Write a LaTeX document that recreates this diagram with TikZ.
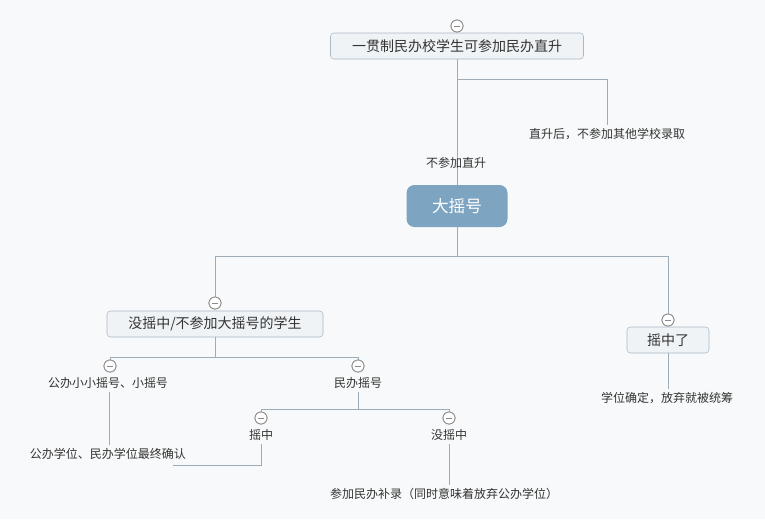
\documentclass[tikz,border=0pt]{standalone}
\usepackage{fontspec}
\setmainfont{Noto Sans CJK SC}
\definecolor{bgc}{HTML}{F8F9FA}
\definecolor{linec}{HTML}{9DADB8}
\definecolor{boxborder}{HTML}{A9B9C5}
\definecolor{boxfill}{HTML}{EFF3F6}
\definecolor{bigfill}{HTML}{7DA5C1}
\definecolor{txtc}{HTML}{333333}
\definecolor{circc}{HTML}{8A8A8A}
\begin{document}
\begin{tikzpicture}[x=0.75pt,y=-0.75pt,
  conn/.style={draw=linec, line width=0.75pt},
  topicbox/.style={draw=boxborder, fill=boxfill, rounded corners=2.5pt, minimum height=19.5pt, inner sep=0pt, text=txtc, font=\fontsize{10.5pt}{12pt}\selectfont},
  bigbox/.style={fill=bigfill, rounded corners=6pt, minimum width=75.75pt, minimum height=31.5pt, inner sep=0pt, text=white, font=\fontsize{12.5pt}{14pt}\selectfont},
  plain/.style={inner xsep=1pt, inner ysep=2.25pt, text=txtc, font=\fontsize{9pt}{11pt}\selectfont},
  collapse/.style={circle, draw=circc, fill=white, line width=0.6pt, minimum size=9pt, inner sep=0pt,
    path picture={\draw[circc, line width=0.6pt] ([xshift=2pt]path picture bounding box.west) -- ([xshift=-2pt]path picture bounding box.east);}}
]
\useasboundingbox[fill=bgc] (0,0) rectangle (765,519);

% nodes
\node[topicbox, minimum width=189.75pt] (top) at (457,46) {一贯制民办校学生可参加民办直升};
\node[collapse] (ctop) at (457,26) {};
\node[plain] (zs) at (607,134) {直升后，不参加其他学校录取};
\node[bigbox] (big) at (457,206) {大摇号};

\node[topicbox, minimum width=162pt] (L) at (215,324) {没摇中/不参加大摇号的学生};
\node[collapse] (cL) at (215,303) {};
\node[topicbox, minimum width=61.5pt] (R) at (668,340) {摇中了};
\node[collapse] (cR) at (668,320) {};
\node[plain] (tR) at (667,398) {学位确定，放弃就被统筹};

\node[plain] (t1) at (108,383) {公办小小摇号、小摇号};
\node[collapse] (c1) at (110,366) {};
\node[plain] (t2) at (358,383) {民办摇号};
\node[collapse] (c2) at (358,366) {};
\node[plain] (t3) at (108,454) {公办学位、民办学位最终确认};

\node[plain] (t4) at (261,435) {摇中};
\node[collapse] (c4) at (261,418) {};
\node[plain] (t5) at (449,435) {没摇中};
\node[collapse] (c5) at (449,418) {};
\node[plain] (t6) at (444,494) {参加民办补录（同时意味着放弃公办学位）};

% junctions
\coordinate (j1) at (457,79);
\coordinate (j2) at (457,256);
\coordinate (j3) at (215,357);
\coordinate (j4) at (358,409);
\coordinate (e1) at (173,465);

% connectors
\draw[conn] (top.south) -- (big.north);
\draw[conn] (j1) -| (zs.north);
\draw[conn] (big.south) -- (j2);
\draw[conn] (j2) -| (cL.north);
\draw[conn] (j2) -| (cR.north);
\draw[conn] (R.south) -- (R.south |- tR.north);
\draw[conn] (L.south) -- (j3);
\draw[conn] (j3) -| (c1.north);
\draw[conn] (j3) -| (c2.north);
\draw[conn] (t1.south -| 109,0) -- (109,0 |- t3.north);
\draw[conn] (t2.south) -- (j4);
\draw[conn] (j4) -| (c4.north);
\draw[conn] (j4) -| (c5.north);
\draw[conn] (t4.south) |- (e1);
\draw[conn] (t5.south) -- (t5.south |- t6.north);

% redraw markers on top of lines
\node[collapse] at (ctop) {};
\node[collapse] at (cL) {};
\node[collapse] at (cR) {};
\node[collapse] at (c1) {};
\node[collapse] at (c2) {};
\node[collapse] at (c4) {};
\node[collapse] at (c5) {};

\node[plain] (lbl) at (456,163) {不参加直升};
\end{tikzpicture}
\end{document}
